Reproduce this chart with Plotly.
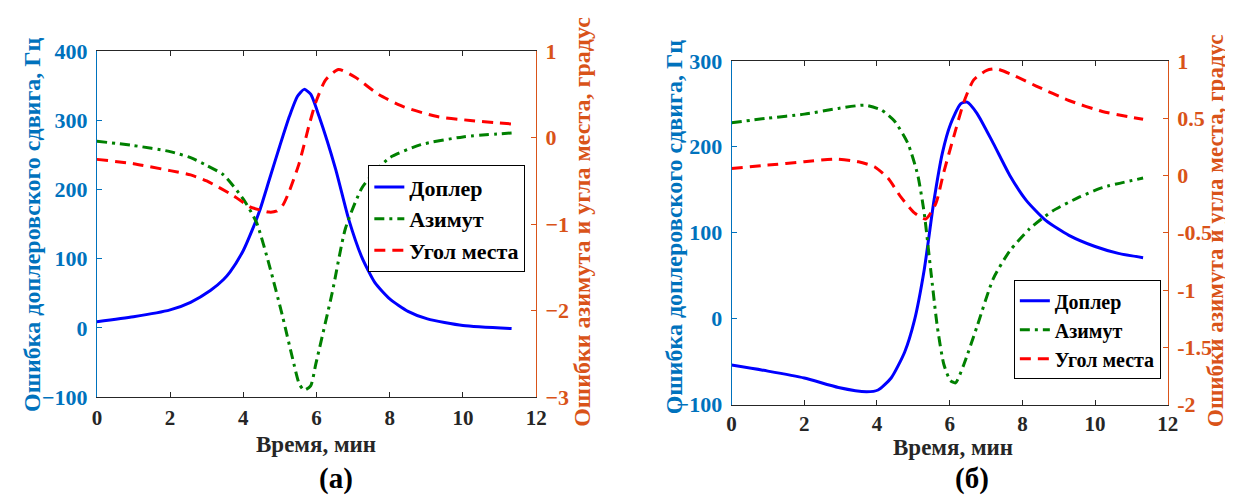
import plotly.graph_objects as go

# ---------------- data: panel (а) ----------------
a_dop_t = [0, 1, 2, 2.56, 3.1, 3.46, 3.64, 4.0, 4.27, 4.45, 4.72, 4.99, 5.26, 5.48, 5.66, 5.84, 6.07, 6.52, 6.88, 7.24, 7.6, 8.0, 8.5, 9.03, 10.0, 11.33]
a_dop_v = [9, 16, 26, 37, 54, 70, 81, 112, 145, 170, 216, 262, 306, 335, 345, 338, 306, 230, 157, 102, 65, 42, 24, 13, 3.5, -1]

a_az_t = [0, 1, 2, 2.56, 3.0, 3.46, 4.0, 4.36, 4.72, 5.08, 5.35, 5.53, 5.66, 5.84, 5.98, 6.43, 6.79, 7.24, 7.6, 8.0, 8.85, 10.0, 11.33]
a_az_v = [-0.04, -0.09, -0.16, -0.23, -0.32, -0.43, -0.71, -0.98, -1.49, -2.08, -2.56, -2.85, -2.92, -2.87, -2.62, -1.79, -1.05, -0.58, -0.39, -0.23, -0.08, 0.01, 0.055]

a_el_t = [0, 1, 2, 2.56, 3.0, 3.73, 4.18, 4.45, 4.7, 4.9, 5.08, 5.26, 5.53, 5.8, 5.98, 6.25, 6.6, 7.06, 7.7, 8.4, 9.3, 10.2, 11.0, 11.33]
a_el_v = [-0.25, -0.3, -0.38, -0.43, -0.5, -0.67, -0.8, -0.835, -0.86, -0.85, -0.78, -0.615, -0.29, 0.15, 0.41, 0.67, 0.79, 0.7, 0.5, 0.355, 0.245, 0.2, 0.17, 0.16]

# ---------------- data: panel (б) ----------------
b_dop_t = [0, 1, 2, 2.94, 3.71, 4.03, 4.39, 4.76, 5.03, 5.3, 5.57, 5.8, 6.02, 6.3, 6.48, 6.75, 7.2, 7.65, 8.1, 8.65, 9.28, 10.0, 10.64, 11.32]
b_dop_v = [-54, -61, -69, -80, -85, -83, -69, -39, -2, 57, 138, 193, 226, 250, 252, 239, 204, 167, 138, 114, 97, 84, 76, 71]

b_az_t = [0, 1, 2, 2.94, 3.67, 4.12, 4.48, 4.85, 5.12, 5.3, 5.48, 5.66, 5.84, 6.02, 6.16, 6.39, 6.75, 7.2, 7.65, 8.2, 8.83, 9.56, 10.2, 11.32]
b_az_v = [0.46, 0.5, 0.535, 0.585, 0.613, 0.571, 0.475, 0.28, 0.005, -0.33, -0.83, -1.32, -1.65, -1.79, -1.81, -1.65, -1.32, -0.9, -0.66, -0.465, -0.31, -0.19, -0.106, -0.023]

b_el_t = [0, 1, 2, 2.85, 3.49, 3.94, 4.3, 4.66, 5.03, 5.34, 5.62, 5.84, 6.11, 6.39, 6.66, 7.02, 7.29, 7.74, 8.38, 9.28, 10.2, 11.32]
b_el_v = [0.06, 0.09, 0.12, 0.143, 0.12, 0.074, -0.023, -0.19, -0.327, -0.38, -0.244, 0.032, 0.336, 0.64, 0.834, 0.917, 0.93, 0.876, 0.78, 0.654, 0.558, 0.49]

x_ticks = [0, 2, 4, 6, 8, 10, 12]
a_left_ticks = [-100, 0, 100, 200, 300, 400]
a_right_ticks = [-3, -2, -1, 0, 1]
b_left_ticks = [-100, 0, 100, 200, 300]
b_right_ticks = [-2, -1.5, -1, -0.5, 0, 0.5, 1]
b_right_labels = ["-2", "-1.5", "-1", "-0.5", "0", "0.5", "1"]

names = ["Доплер", "Азимут", "Угол места"]
left_title = "Ошибка доплеровского сдвига, Гц"
right_title = "Ошибки азимута и угла места, градус"
x_title = "Время, мин"
panel_labels = ["(а)", "(б)"]

FONT = "Liberation Serif"
BLUE_AX = "#0072BD"
ORANGE_AX = "#D95319"
DARK = "#262626"
C_DOP = "#0000FF"
C_AZ = "#008000"
C_EL = "#FF0000"
W = 1233
H = 497

fig = go.Figure()

def add_panel(t_d, v_d, t_a, v_a, t_e, v_e, xa, yl, yr, legend):
    fig.add_trace(go.Scatter(x=t_d, y=v_d, name=names[0], mode="lines", xaxis=xa, yaxis=yl,
                             line=dict(color=C_DOP, width=3, shape="spline", smoothing=0.6), legend=legend))
    fig.add_trace(go.Scatter(x=t_a, y=v_a, name=names[1], mode="lines", xaxis=xa, yaxis=yr,
                             line=dict(color=C_AZ, width=3, dash="10px,5px,3px,5px", shape="spline", smoothing=0.6), legend=legend))
    fig.add_trace(go.Scatter(x=t_e, y=v_e, name=names[2], mode="lines", xaxis=xa, yaxis=yr,
                             line=dict(color=C_EL, width=3, dash="11px,7px", shape="spline", smoothing=0.6), legend=legend))

add_panel(a_dop_t, a_dop_v, a_az_t, a_az_v, a_el_t, a_el_v, "x", "y", "y2", "legend")
add_panel(b_dop_t, b_dop_v, b_az_t, b_az_v, b_el_t, b_el_v, "x2", "y3", "y4", "legend2")

tickfont_x = dict(family=FONT, size=21, color=DARK, weight="bold")
tickfont_l = dict(family=FONT, size=22, color=BLUE_AX, weight="bold")
tickfont_r = dict(family=FONT, size=22, color=ORANGE_AX, weight="bold")

xcommon = dict(range=[0, 12], tickvals=x_ticks, ticks="inside", ticklen=5, tickcolor=DARK,
               showline=True, linecolor=DARK, linewidth=1, mirror="ticks", showgrid=False,
               zeroline=False, tickfont=tickfont_x)

pa = [85, 530, 33, 397]
pb = [728, 1170, 43, 405]

def dom_x(p):
    return [p[0] / W, p[1] / W]

def dom_y(p):
    return [1 - p[3] / H, 1 - p[2] / H]

fig.update_layout(
    width=W, height=H,
    margin=dict(l=0, r=0, t=0, b=0),
    paper_bgcolor="white", plot_bgcolor="white",
    font=dict(family=FONT, size=20, color="black"),
    xaxis=dict(domain=dom_x(pa), anchor="y", ticklabelstandoff=2, **xcommon),
    yaxis=dict(domain=dom_y(pa), anchor="x", range=[-100, 400], tickvals=a_left_ticks,
               ticks="inside", ticklen=5, tickcolor=BLUE_AX, showline=True, linecolor=BLUE_AX,
               linewidth=1, showgrid=False, zeroline=False, tickfont=tickfont_l, ticklabelstandoff=4),
    yaxis2=dict(overlaying="y", side="right", anchor="x", range=[-3, 1], tickvals=a_right_ticks,
                ticks="inside", ticklen=5, tickcolor=ORANGE_AX, showline=True, linecolor=ORANGE_AX,
                linewidth=1, showgrid=False, zeroline=False, tickfont=tickfont_r, ticklabelstandoff=4),
    xaxis2=dict(domain=dom_x(pb), anchor="y3", **xcommon),
    yaxis3=dict(domain=dom_y(pb), anchor="x2", range=[-100, 300], tickvals=b_left_ticks,
                ticks="inside", ticklen=5, tickcolor=BLUE_AX, showline=True, linecolor=BLUE_AX,
                linewidth=1, showgrid=False, zeroline=False, tickfont=tickfont_l, ticklabelstandoff=4),
    yaxis4=dict(overlaying="y3", side="right", anchor="x2", range=[-2, 1], tickvals=b_right_ticks,
                ticktext=b_right_labels,
                ticks="inside", ticklen=5, tickcolor=ORANGE_AX, showline=True, linecolor=ORANGE_AX,
                linewidth=1, showgrid=False, zeroline=False, tickfont=tickfont_r, ticklabelstandoff=4),
    legend=dict(x=360 / W, y=1 - 153 / H, xanchor="left", yanchor="top",
                bgcolor="white", bordercolor="black", borderwidth=1,
                font=dict(family=FONT, size=22, color="black", weight="bold"), tracegroupgap=0, itemwidth=30),
    legend2=dict(x=1014 / W, y=1 - 274 / H, xanchor="left", yanchor="top",
                 bgcolor="white", bordercolor="black", borderwidth=1,
                 font=dict(family=FONT, size=20, color="black", weight="bold"), tracegroupgap=0, itemwidth=30),
    showlegend=True,
)

def ann(x, y, text, color, angle=0, size=21):
    fig.add_annotation(x=x / W, y=1 - y / H, xref="paper", yref="paper", text=text,
                       showarrow=False, textangle=angle, xanchor="center", yanchor="middle",
                       font=dict(family=FONT, size=size, color=color, weight="bold"))

ann(19, 215, left_title, BLUE_AX, -90, 24)
ann(577, 213, right_title, ORANGE_AX, -90, 24)
ann(670, 218, left_title, BLUE_AX, -90, 24)
ann(1219, 222, right_title, ORANGE_AX, -90, 23)
ann(307, 447, x_title, DARK, 0, 23)
ann(952, 450, x_title, DARK, 0, 23)
ann(327, 483, panel_labels[0], "black", 0, 29)
ann(972, 483, panel_labels[1], "black", 0, 29)

fig.write_html("out.html")
